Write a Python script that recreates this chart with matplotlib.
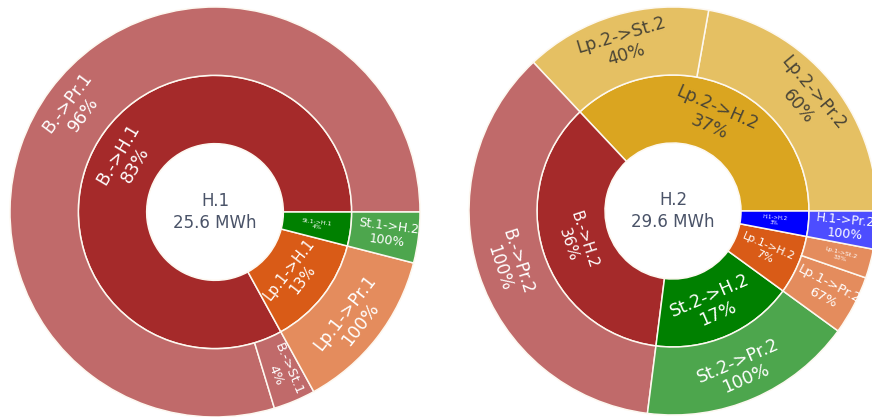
import numpy as np
import matplotlib
matplotlib.use("Agg")
import matplotlib.pyplot as plt
from matplotlib.colors import to_rgb

# H.1 sunburst
h1_total = "25.6 MWh"
h1_inner_labels = ["B.->H.1", "Lp.1->H.1", "St.1->H.1"]
h1_inner_pct = [83, 13, 4]
h1_outer_labels = ["B.->Pr.1", "B.->St.1", "Lp.1->Pr.1", "St.1->H.2"]
h1_outer_parent = [0, 0, 1, 2]
h1_outer_pct = [96, 4, 100, 100]

# H.2 sunburst
h2_total = "29.6 MWh"
h2_inner_labels = ["Lp.2->H.2", "B.->H.2", "St.2->H.2", "Lp.1->H.2", "H.1->H.2"]
h2_inner_pct = [37, 36, 17, 7, 3]
h2_outer_labels = ["Lp.2->Pr.2", "Lp.2->St.2", "B.->Pr.2", "St.2->Pr.2",
                   "Lp.1->Pr.2", "Lp.1->St.2", "H.1->Pr.2"]
h2_outer_parent = [0, 0, 1, 2, 3, 3, 4]
h2_outer_pct = [60, 40, 100, 100, 67, 33, 100]

# colours of the inner ring, outer ring is the same at 70% opacity
h1_colors = ["#a52a2a", "#d95b17", "#008000"]
h2_colors = ["#daa520", "#a52a2a", "#008000", "#d95b17", "#0000ff"]
dark_text = {"#daa520"}

# styles per label: (orientation, fontsize)
h1_inner_style = [("t", 12.5), ("t", 10.5), ("r", 4.5)]
h1_outer_style = [("t", 12.5), ("r", 9.5), ("t", 12.5), ("r", 9)]
h2_inner_style = [("t", 12.5), ("t", 11), ("t", 12.5), ("r", 8), ("r", 4)]
h2_outer_style = [("t", 12.5), ("t", 12.5), ("t", 12), ("t", 12.5),
                  ("r", 9.5), ("r", 4.5), ("r", 9)]


def lighten(c, a=0.7):
    r = np.array(to_rgb(c))
    return tuple(r * a + (1 - a))


def norm_rot(rot):
    rot = rot % 360
    if rot > 180:
        rot -= 360
    if rot > 90:
        rot -= 180
    elif rot <= -90:
        rot += 180
    return rot


def label_ring(ax, wedges, labels, pcts, styles, r_mid, colors, center):
    for w, lab, p, (orient, fs), col in zip(wedges, labels, pcts, styles, colors):
        a = (w.theta1 + w.theta2) / 2
        x = center[0] + r_mid * np.cos(np.radians(a))
        y = center[1] + r_mid * np.sin(np.radians(a))
        rot = norm_rot(a if orient == "r" else a - 90)
        tc = "#4a4536" if col in dark_text else "white"
        ax.text(x, y, f"{lab}\n{p}%", ha="center", va="center", rotation=rot,
                rotation_mode="anchor", fontsize=fs, color=tc, linespacing=1.15)


def draw_sunburst(ax, center, r_out, title, total, inner_labels, inner_pct,
                  outer_labels, outer_parent, outer_pct, colors, inner_style, outer_style):
    ring = r_out / 3
    r_mid = r_out - ring
    edge = dict(edgecolor="#fdf8f0", linewidth=1.1)

    inner_w, _ = ax.pie(inner_pct, radius=r_mid, center=center, startangle=0,
                        counterclock=True, colors=colors,
                        wedgeprops=dict(width=ring, **edge))
    outer_vals = [inner_pct[p] * v / 100 for p, v in zip(outer_parent, outer_pct)]
    outer_cols = [lighten(colors[p]) for p in outer_parent]
    outer_w, _ = ax.pie(outer_vals, radius=r_out, center=center, startangle=0,
                        counterclock=True, colors=outer_cols,
                        wedgeprops=dict(width=ring, **edge))

    label_ring(ax, inner_w, inner_labels, inner_pct, inner_style,
               r_mid - ring / 2, colors, center)
    label_ring(ax, outer_w, outer_labels, outer_pct, outer_style,
               r_out - ring / 2 + 3, [colors[p] for p in outer_parent], center)
    ax.text(center[0], center[1], f"{title}\n{total}", ha="center", va="center",
            fontsize=12, color="#4a5368", linespacing=1.25)


fig = plt.figure(figsize=(8.72, 4.17), dpi=100)
ax = fig.add_axes([0, 0, 1, 1])

draw_sunburst(ax, (215, 205), 205, "H.1", h1_total, h1_inner_labels, h1_inner_pct,
              h1_outer_labels, h1_outer_parent, h1_outer_pct, h1_colors,
              h1_inner_style, h1_outer_style)
draw_sunburst(ax, (673, 206), 204, "H.2", h2_total, h2_inner_labels, h2_inner_pct,
              h2_outer_labels, h2_outer_parent, h2_outer_pct, h2_colors,
              h2_inner_style, h2_outer_style)

ax.set_xlim(0, 872)
ax.set_ylim(0, 417)
ax.set_aspect("auto")
ax.axis("off")

fig.savefig("out.png", dpi=100)
